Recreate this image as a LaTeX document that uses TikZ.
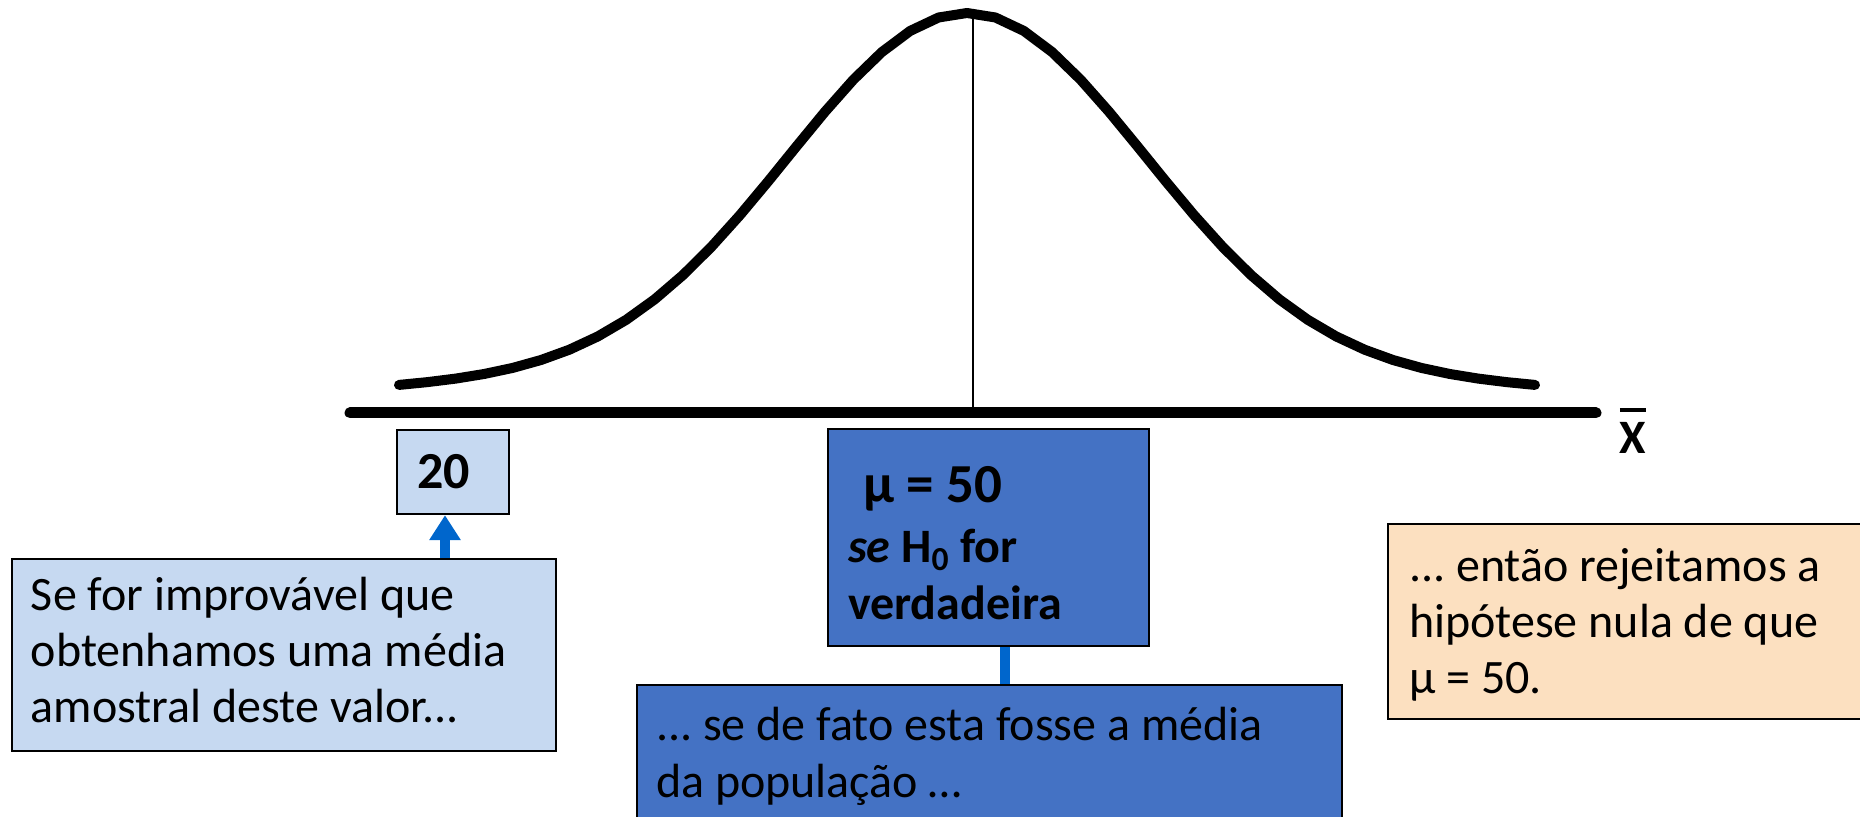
\documentclass[tikz,border=0pt]{standalone}
\usepackage{fontspec}
\setmainfont{Carlito}
\usetikzlibrary{arrows.meta}
\definecolor{pale}{RGB}{198,217,241}
\definecolor{deep}{RGB}{68,114,196}
\definecolor{peach}{RGB}{252,224,192}
\definecolor{wire}{RGB}{0,102,204}
\frenchspacing
\newcommand{\barX}{\setbox0\hbox{X}\vbox{\hrule height 1.7pt\kern 5.5pt\box0}}
% first-line height / last-line depth, so the text block sits where wanted
\newcommand{\hi}[1]{\rule{0pt}{#1}}
\newcommand{\lo}[1]{\rule[-#1]{0pt}{0pt}}

\begin{document}
\begin{tikzpicture}[
  x=0.5pt, y=-0.5pt,
  every node/.style={inner sep=0pt, text=black},
  body/.style={font=\fontsize{24}{28}\selectfont},
  lbox/.style={draw=black, fill=pale, line width=1.2pt, align=flush left, body},
  dbox/.style={draw=black, fill=deep, line width=1.2pt, align=flush left, body},
  obox/.style={draw=black, fill=peach, line width=1.2pt, align=flush left, body},
  flow/.style={draw=wire, line width=5pt, -{Triangle[length=12.5pt,width=15pt]}},
  link/.style={draw=wire, line width=5pt},
  curve/.style={draw=black, line width=5pt, line cap=round, line join=round},
  axis/.style={draw=black, line width=5.5pt, line cap=round},
]
\clip (0,0) rectangle (1860,817);

% ---------------- sampling distribution ----------------
\draw[curve] plot[domain=-568:568, samples=41]
  ({967+\x}, {405-352*exp(-0.5*(\x/177)*(\x/177))-40*exp(-0.5*(\x/450)*(\x/450))});
\coordinate (top) at (973,12);
\coordinate (mid) at (973,413);
\draw[line width=1pt] (top) -- (mid);

\coordinate (axl) at (350,413);
\coordinate (axr) at (1596,413);
\draw[axis] (axl) -- (axr);
\node[font=\fontsize{24}{28}\selectfont\bfseries] (xlab) at (1633,431) {\barX};

% ---------------- sample mean ----------------
\node[lbox, minimum width=56pt, minimum height=42pt, text width=36pt, inner xsep=10pt,
      font=\fontsize{26}{30}\selectfont\bfseries] (zero) at (453,472) {20};
\node[lbox, minimum height=96pt, text width=253pt, inner xsep=9.5pt] (sample) at (284,655)
  {\hi{20.5pt}Se for improvável que\\obtenhamos uma média\\amostral deste valor...\lo{9pt}};
\draw[flow] ([xshift=-4pt]zero.south |- sample.north) -- ([xshift=-4pt]zero.south);

% ---------------- hypothesised mean ----------------
\node[dbox, minimum height=108.5pt, text width=140.5pt, inner xsep=10pt,
      font=\fontsize{24}{28.5}\selectfont\bfseries] (hyp) at (988.5,537.5)
  {{\fontsize{27.5}{30}\selectfont\hi{26pt}\hspace{7.5pt}μ = 50}\\[1.5pt]\textit{se} H\textsubscript{0} for\\verdadeira\lo{2pt}};
\node[dbox, anchor=north, text width=333.5pt, inner xsep=9.5pt, inner ysep=9.75pt,
      font=\fontsize{24}{28.5}\selectfont] (pop) at (989.5,684)
  {\hi{18pt}... se de fato esta fosse a média\\da população …};
\draw[link] ([xshift=8.25pt]hyp.south) -- ([xshift=8.25pt]hyp.south |- pop.north);

% ---------------- conclusion ----------------
\node[obox, minimum height=97.5pt, text width=235pt, inner xsep=10.5pt] (reject) at (1644,621.5)
  {\hi{23pt}... então rejeitamos a\\hipótese nula de que\\μ = 50.\lo{6.5pt}};

\end{tikzpicture}
\end{document}
